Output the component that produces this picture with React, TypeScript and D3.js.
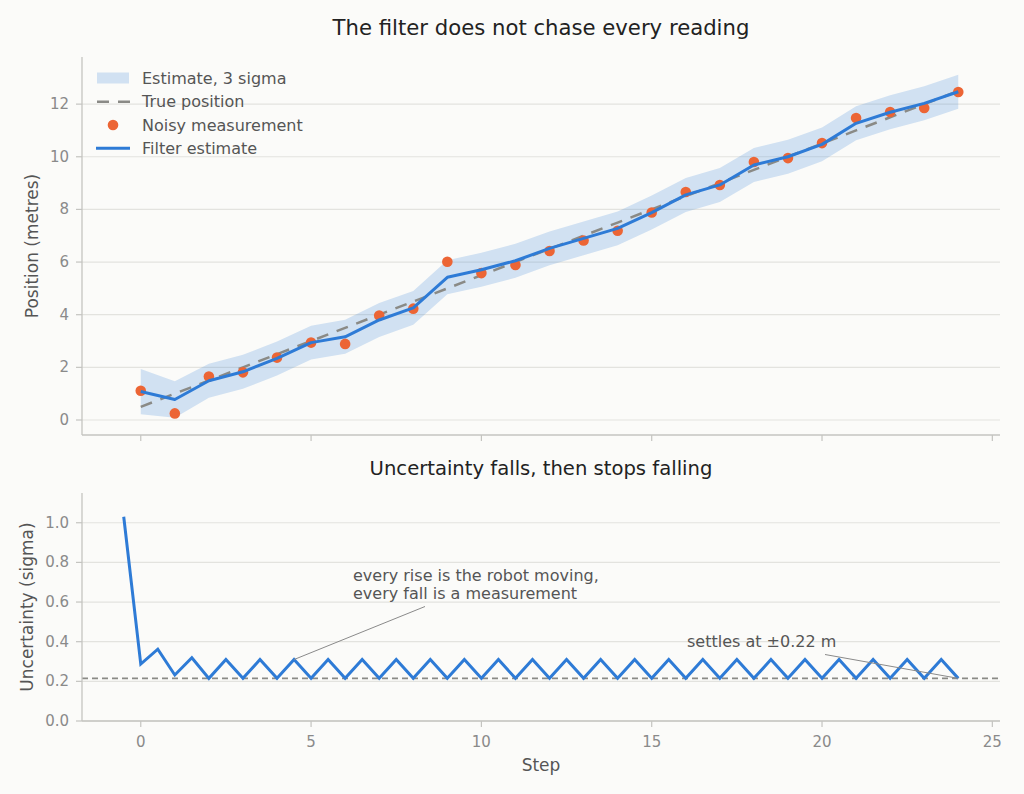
import { FC } from "react";
import * as d3 from "d3";

const WIDTH = 1024;
const HEIGHT = 794;
const FONT = "DejaVu Sans, Liberation Sans, sans-serif";

// top panel: position per step
const steps = d3.range(0, 25);
const truePosition = [
  0.5, 1.0, 1.5, 2.0, 2.5, 3.0, 3.5, 4.0, 4.5, 5.0, 5.5, 6.0, 6.5, 7.0, 7.5,
  8.0, 8.5, 9.0, 9.5, 10.0, 10.5, 11.0, 11.5, 12.0, 12.5,
];
const measured = [
  1.11, 0.25, 1.65, 1.81, 2.37, 2.94, 2.89, 3.97, 4.23, 6.01, 5.58, 5.89, 6.42,
  6.82, 7.19, 7.88, 8.66, 8.93, 9.8, 9.95, 10.52, 11.47, 11.7, 11.85, 12.46,
];
const estimate = [
  1.08, 0.78, 1.49, 1.83, 2.34, 2.94, 3.16, 3.8, 4.26, 5.42, 5.71, 6.05, 6.52,
  6.9, 7.28, 7.88, 8.55, 8.93, 9.69, 10.0, 10.47, 11.27, 11.69, 12.03, 12.47,
];

// bottom panel: sigma at every predict (x.5) and update (x.0)
const sigmaSteps = d3.range(-0.5, 24.01, 0.5);
const sigma = [
  1.03, 0.287, 0.362, 0.232, 0.319, 0.215,
  0.31, 0.215, 0.31, 0.215, 0.31, 0.215, 0.31, 0.215, 0.31, 0.215, 0.31, 0.215,
  0.31, 0.215, 0.31, 0.215, 0.31, 0.215, 0.31, 0.215, 0.31, 0.215, 0.31, 0.215,
  0.31, 0.215, 0.31, 0.215, 0.31, 0.215, 0.31, 0.215, 0.31, 0.215, 0.31, 0.215,
  0.31, 0.215, 0.31, 0.215, 0.31, 0.215, 0.31, 0.215,
];
const settled = 0.215;

const xTicks = [0, 5, 10, 15, 20, 25];
const posTicks = [0, 2, 4, 6, 8, 10, 12];
const sigmaTicks = [0, 0.2, 0.4, 0.6, 0.8, 1.0];

const legendItems = ["Estimate, 3 sigma", "True position", "Noisy measurement", "Filter estimate"];

const BLUE = "#2e7bd6";
const ORANGE = "#ec6535";
const GREY = "#8a8a86";
const SPINE = "#c4c4c0";
const GRID = "#e3e3df";

const L = 82;
const R = 1000;
const TOP1 = 57;
const BOT1 = 435;
const TOP2 = 493;
const BOT2 = 721;

const App: FC = () => {
  if (typeof document !== "undefined") document.body.style.margin = "0";

  const x = d3.scaleLinear().domain([-1.725, 25.225]).range([L, R]);
  const y1 = d3.scaleLinear().domain([-0.57, 13.79]).range([BOT1, TOP1]);
  const y2 = d3.scaleLinear().domain([0, 1.15]).range([BOT2, TOP2]);

  const band = d3
    .area<number>()
    .x((k) => x(k))
    .y0((k) => y1(estimate[k] - 3 * sigma[2 * k + 1]))
    .y1((k) => y1(estimate[k] + 3 * sigma[2 * k + 1]));
  const trueLine = d3.line<number>().x((k) => x(k)).y((k) => y1(truePosition[k]));
  const estLine = d3.line<number>().x((k) => x(k)).y((k) => y1(estimate[k]));
  const sigmaLine = d3
    .line<number>()
    .x((_, i) => x(sigmaSteps[i]))
    .y((v) => y2(v));

  const legendY = [78, 101.7, 125, 148.3];

  return (
    <svg width={WIDTH} height={HEIGHT} style={{ display: "block", background: "#fbfbf9" }} fontFamily={FONT}>
      <rect width={WIDTH} height={HEIGHT} fill="#fbfbf9" />

      {/* ---------- top panel ---------- */}
      <text x={(L + R) / 2} y={35} textAnchor="middle" fontSize={21.2} fill="#222">
        The filter does not chase every reading
      </text>
      {posTicks.map((t) => (
        <g key={t}>
          <line x1={L} x2={R} y1={y1(t)} y2={y1(t)} stroke={GRID} strokeWidth={1.2} />
          <line x1={L - 6} x2={L} y1={y1(t)} y2={y1(t)} stroke={SPINE} strokeWidth={1.2} />
          <text x={L - 13} y={y1(t)} textAnchor="end" dominantBaseline="central" fontSize={15} fill="#8a8a8a">
            {t}
          </text>
        </g>
      ))}
      {xTicks.map((t) => (
        <line key={t} x1={x(t)} x2={x(t)} y1={BOT1} y2={BOT1 + 6} stroke={SPINE} strokeWidth={1.2} />
      ))}
      <path d={band(steps) ?? ""} fill={BLUE} fillOpacity={0.2} />
      <path d={trueLine(steps) ?? ""} fill="none" stroke={GREY} strokeWidth={2.5} strokeDasharray="12,9" />
      {steps.map((k) => (
        <circle key={k} cx={x(k)} cy={y1(measured[k])} r={5.3} fill={ORANGE} />
      ))}
      <path d={estLine(steps) ?? ""} fill="none" stroke={BLUE} strokeWidth={3} strokeLinejoin="round" />
      <line x1={L} x2={L} y1={TOP1} y2={BOT1} stroke={SPINE} strokeWidth={1.3} />
      <line x1={L} x2={R} y1={BOT1} y2={BOT1} stroke={SPINE} strokeWidth={1.3} />
      <text
        transform={`translate(32,${(TOP1 + BOT1) / 2}) rotate(-90)`}
        textAnchor="middle"
        dominantBaseline="central"
        fontSize={17}
        fill="#555"
      >
        Position (metres)
      </text>

      {/* legend */}
      <rect x={97} y={72.5} width={32} height={11} fill={BLUE} fillOpacity={0.2} />
      <line x1={97} x2={130} y1={legendY[1]} y2={legendY[1]} stroke={GREY} strokeWidth={2.5} strokeDasharray="12,9" />
      <circle cx={113} cy={legendY[2]} r={5.3} fill={ORANGE} />
      <line x1={96} x2={130} y1={legendY[3]} y2={legendY[3]} stroke={BLUE} strokeWidth={3} />
      {legendItems.map((s, i) => (
        <text key={s} x={142} y={legendY[i]} dominantBaseline="central" fontSize={16} fill="#555">
          {s}
        </text>
      ))}

      {/* ---------- bottom panel ---------- */}
      <text x={(L + R) / 2} y={475} textAnchor="middle" fontSize={19.6} fill="#222">
        Uncertainty falls, then stops falling
      </text>
      {sigmaTicks.map((t) => (
        <g key={t}>
          <line x1={L} x2={R} y1={y2(t)} y2={y2(t)} stroke={GRID} strokeWidth={1.2} />
          <line x1={L - 6} x2={L} y1={y2(t)} y2={y2(t)} stroke={SPINE} strokeWidth={1.2} />
          <text x={L - 13} y={y2(t)} textAnchor="end" dominantBaseline="central" fontSize={15} fill="#8a8a8a">
            {d3.format(".1f")(t)}
          </text>
        </g>
      ))}
      {xTicks.map((t) => (
        <g key={t}>
          <line x1={x(t)} x2={x(t)} y1={BOT2} y2={BOT2 + 6} stroke={SPINE} strokeWidth={1.2} />
          <text x={x(t)} y={747} textAnchor="middle" fontSize={15} fill="#8a8a8a">
            {t}
          </text>
        </g>
      ))}
      <line x1={L} x2={R} y1={y2(settled)} y2={y2(settled)} stroke={GREY} strokeWidth={1.6} strokeDasharray="6,4" />
      <path d={sigmaLine(sigma) ?? ""} fill="none" stroke={BLUE} strokeWidth={3} strokeLinejoin="miter" />
      <line x1={L} x2={L} y1={TOP2} y2={BOT2} stroke={SPINE} strokeWidth={1.3} />
      <line x1={L} x2={R} y1={BOT2} y2={BOT2} stroke={SPINE} strokeWidth={1.3} />
      <text
        transform={`translate(27,${(TOP2 + BOT2) / 2}) rotate(-90)`}
        textAnchor="middle"
        dominantBaseline="central"
        fontSize={17}
        fill="#555"
      >
        Uncertainty (sigma)
      </text>
      <text x={(L + R) / 2} y={771} textAnchor="middle" fontSize={17} fill="#555">
        Step
      </text>

      {/* annotations */}
      <line x1={425} y1={606.5} x2={x(4.5)} y2={y2(0.31)} stroke="#8a8a8a" strokeWidth={1} />
      <text fontSize={16} fill="#555">
        <tspan x={353} y={581}>every rise is the robot moving,</tspan>
        <tspan x={353} y={599}>every fall is a measurement</tspan>
      </text>
      <line x1={825} y1={654.5} x2={x(24)} y2={y2(settled)} stroke="#8a8a8a" strokeWidth={1} />
      <text x={687} y={647} fontSize={16} fill="#555">
        settles at ±0.22 m
      </text>
    </svg>
  );
};

export default App;
